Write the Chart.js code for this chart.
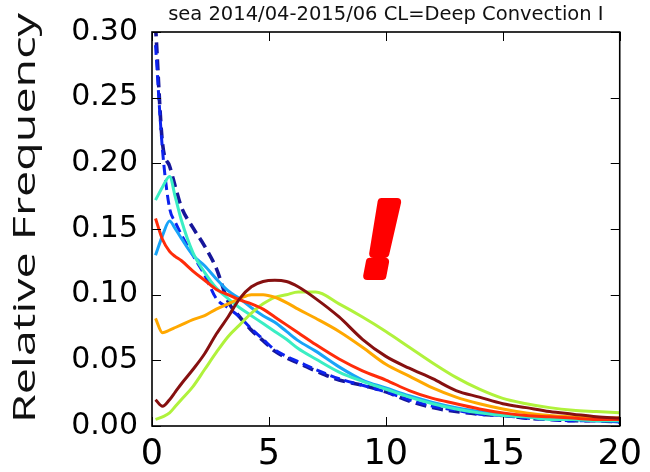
<!DOCTYPE html>
<html>
<head>
<meta charset="utf-8">
<script src="https://cdn.jsdelivr.net/npm/chart.js@4.4.1/dist/chart.umd.min.js"></script>
<style>
  html, body { margin: 0; padding: 0; background: #ffffff; }
  #wrap { width: 650px; height: 472px; position: relative; }
</style>
</head>
<body>
<div id="wrap"><canvas id="c" width="650" height="472"></canvas></div>
<script>
// Bins (x) and relative frequency per class
const xs = [0.15, 0.45, 0.75, 1.0, 1.25, 1.75, 2.25, 2.75, 3.25, 3.75, 4.25, 4.75, 5.25, 5.75, 6.25,
            7, 8, 9, 10, 11, 12, 13, 14, 15, 16, 17, 18, 19, 20];

const navyVals   = [0.305, 0.215, 0.198, 0.182, 0.167, 0.151, 0.137, 0.120, 0.095, 0.083, 0.073, 0.065, 0.057, 0.052, 0.048,
                    0.042, 0.035, 0.031, 0.026, 0.019, 0.014, 0.011, 0.009, 0.008, 0.006, 0.005, 0.004, 0.004, 0.003];
const blueVals   = [0.290, 0.210, 0.166, 0.155, 0.146, 0.130, 0.115, 0.097, 0.090, 0.083, 0.074, 0.066, 0.058, 0.053, 0.049,
                    0.043, 0.036, 0.031, 0.026, 0.020, 0.015, 0.012, 0.009, 0.008, 0.006, 0.005, 0.004, 0.004, 0.003];
const dodgerVals = [0.130, 0.145, 0.156, 0.150, 0.143, 0.130, 0.122, 0.112, 0.103, 0.097, 0.090, 0.084, 0.079, 0.072, 0.065,
                    0.057, 0.045, 0.035, 0.029, 0.023, 0.018, 0.014, 0.011, 0.009, 0.007, 0.006, 0.005, 0.004, 0.004];
const aquaVals   = [0.172, 0.182, 0.190, 0.174, 0.157, 0.132, 0.117, 0.105, 0.097, 0.090, 0.084, 0.078, 0.072, 0.066, 0.059,
                    0.051, 0.041, 0.034, 0.028, 0.022, 0.017, 0.013, 0.010, 0.008, 0.007, 0.005, 0.005, 0.004, 0.004];
const limeVals   = [0.005, 0.007, 0.010, 0.015, 0.020, 0.030, 0.043, 0.056, 0.068, 0.077, 0.086, 0.093, 0.098, 0.100, 0.102,
                    0.102, 0.093, 0.083, 0.072, 0.060, 0.048, 0.037, 0.028, 0.021, 0.017, 0.014, 0.012, 0.011, 0.010];
const orangeVals = [0.082, 0.071, 0.073, 0.075, 0.077, 0.081, 0.084, 0.089, 0.093, 0.097, 0.100, 0.100, 0.098, 0.094, 0.089,
                    0.082, 0.072, 0.060, 0.047, 0.038, 0.029, 0.022, 0.017, 0.013, 0.010, 0.008, 0.007, 0.006, 0.006];
const redVals    = [0.158, 0.142, 0.133, 0.129, 0.126, 0.118, 0.111, 0.104, 0.100, 0.096, 0.093, 0.089, 0.083, 0.077, 0.071,
                    0.062, 0.051, 0.042, 0.035, 0.027, 0.021, 0.017, 0.013, 0.010, 0.008, 0.007, 0.006, 0.005, 0.005];
const maroonVals = [0.020, 0.015, 0.020, 0.026, 0.032, 0.043, 0.055, 0.070, 0.083, 0.097, 0.106, 0.110, 0.111, 0.110, 0.106,
                    0.097, 0.083, 0.066, 0.053, 0.044, 0.036, 0.027, 0.022, 0.017, 0.014, 0.011, 0.009, 0.007, 0.006];

const xTickValues = [0, 5, 10, 15, 20];
const yTickValues = [0, 0.05, 0.10, 0.15, 0.20, 0.25, 0.30];

const titleText = 'sea 2014/04-2015/06 CL=Deep Convection I';
const yLabelText = 'Relative Frequency';

const seriesList = [
  { vals: navyVals,   color: '#16169a', dash: [11, 6], width: 3.6 },
  { vals: blueVals,   color: '#0c22ee', dash: [10, 5], width: 3.0 },
  { vals: dodgerVals, color: '#18a4f8', dash: [],      width: 3.0 },
  { vals: aquaVals,   color: '#3aeec4', dash: [],      width: 3.0 },
  { vals: limeVals,   color: '#b0f23c', dash: [],      width: 3.0 },
  { vals: orangeVals, color: '#ffa800', dash: [],      width: 3.0 },
  { vals: redVals,    color: '#ff2c0a', dash: [],      width: 3.0 },
  { vals: maroonVals, color: '#861010', dash: [],      width: 3.0 }
];

const datasets = seriesList.map((s, i) => ({
  data: xs.map((x, k) => ({ x: x, y: s.vals[k] })),
  borderColor: s.color,
  borderWidth: s.width,
  borderDash: s.dash,
  pointRadius: 0,
  fill: false,
  cubicInterpolationMode: 'monotone',
  order: seriesList.length - 1 - i
}));

// Frame, inward ticks on all four sides, title, axis label and the red mark
const decorations = {
  id: 'decorations',
  afterDraw(chart) {
    const { ctx, chartArea: a, scales } = chart;
    const sx = scales.x, sy = scales.y;
    ctx.save();
    ctx.strokeStyle = '#000';
    ctx.lineWidth = 1;
    const tl = 9;
    ctx.beginPath();
    xTickValues.forEach(v => {
      const px = Math.round(sx.getPixelForValue(v)) + 0.5;
      ctx.moveTo(px, a.bottom); ctx.lineTo(px, a.bottom - tl);
      ctx.moveTo(px, a.top);    ctx.lineTo(px, a.top + tl);
    });
    yTickValues.forEach(v => {
      const py = Math.round(sy.getPixelForValue(v)) + 0.5;
      ctx.moveTo(a.left, py);  ctx.lineTo(a.left + tl, py);
      ctx.moveTo(a.right, py); ctx.lineTo(a.right - tl, py);
    });
    ctx.stroke();
    ctx.lineWidth = 1.6;
    ctx.strokeRect(a.left, a.top, a.right - a.left, a.bottom - a.top);

    // title
    ctx.fillStyle = '#111';
    ctx.font = '19.5px "DejaVu Sans"';
    ctx.textAlign = 'center';
    ctx.textBaseline = 'alphabetic';
    ctx.fillText(titleText, (a.left + a.right) / 2, 20);

    // y axis label, rotated and stretched along its length
    ctx.save();
    ctx.font = '31px "Open Sans"';
    const w = ctx.measureText(yLabelText).width;
    const target = 410;
    ctx.translate(35, 218);
    ctx.rotate(-Math.PI / 2);
    ctx.scale(target / w, 1);
    ctx.textAlign = 'center';
    ctx.textBaseline = 'alphabetic';
    ctx.fillStyle = '#111';
    ctx.fillText(yLabelText, 0, 0);
    ctx.restore();

    // red exclamation mark
    ctx.font = 'italic bold 108px "Liberation Sans"';
    ctx.fillStyle = '#ff0000';
    ctx.strokeStyle = '#ff0000';
    ctx.lineWidth = 8;
    ctx.lineJoin = 'round';
    ctx.textAlign = 'center';
    ctx.textBaseline = 'alphabetic';
    ctx.fillText('!', 381, 276);
    ctx.strokeText('!', 381, 276);
    ctx.restore();
  }
};

new Chart(document.getElementById('c'), {
  type: 'line',
  data: { datasets },
  options: {
    responsive: false,
    devicePixelRatio: 1,
    animation: false,
    layout: { padding: { top: 32, right: 27, left: 0, bottom: 0 } },
    plugins: { legend: { display: false }, tooltip: { enabled: false }, title: { display: false } },
    scales: {
      x: {
        type: 'linear', min: 0, max: 20,
        afterBuildTicks: s => { s.ticks = xTickValues.map(v => ({ value: v })); },
        ticks: { color: '#000', font: { family: 'DejaVu Sans', size: 35 }, padding: 8, maxRotation: 0,
                 callback: v => String(v) },
        grid: { display: false, drawTicks: false },
        border: { display: false },
        afterFit: s => { s.height = 46; }
      },
      y: {
        type: 'linear', min: 0, max: 0.30,
        afterBuildTicks: s => { s.ticks = yTickValues.map(v => ({ value: v })); },
        ticks: { color: '#000', font: { family: 'DejaVu Sans', size: 30 }, padding: 14,
                 callback: v => Number(v).toFixed(2) },
        grid: { display: false, drawTicks: false },
        border: { display: false },
        afterFit: s => { s.width = 152; }
      }
    }
  },
  plugins: [decorations]
});
</script>
</body>
</html>
